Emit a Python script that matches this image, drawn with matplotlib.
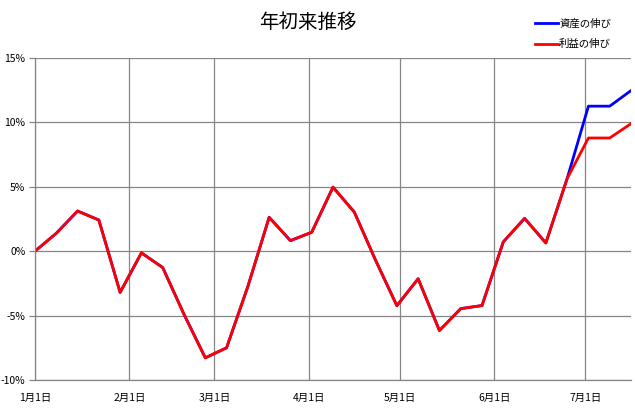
import matplotlib.pyplot as plt
import numpy as np
import pandas as pd

# ==========================================
# DATA
# ==========================================

dates = pd.date_range("2019-01-01", "2019-07-16", freq="7D")

# 資産の伸び (%)
asset_growth = [0.0, 1.39, 3.12, 2.42, -3.2, -0.13, -1.27, -4.9, -8.28, -7.5,
                -2.74, 2.63, 0.82, 1.47, 4.97, 3.04, -0.7, -4.23, -2.14, -6.16,
                -4.46, -4.22, 0.72, 2.55, 0.64, 5.64, 11.26, 11.26, 12.47]

# 利益の伸び (%)
profit_growth = [0.0, 1.39, 3.12, 2.42, -3.2, -0.13, -1.27, -4.9, -8.28, -7.5,
                 -2.74, 2.63, 0.82, 1.47, 4.97, 3.04, -0.7, -4.23, -2.14, -6.16,
                 -4.46, -4.22, 0.72, 2.55, 0.64, 5.64, 8.79, 8.79, 9.9]

month_ticks = pd.to_datetime(["2019-01-01", "2019-02-01", "2019-03-01", "2019-04-01",
                              "2019-05-01", "2019-06-01", "2019-07-01"])
month_labels = ["1月1日", "2月1日", "3月1日", "4月1日", "5月1日", "6月1日", "7月1日"]

y_ticks = [-10, -5, 0, 5, 10, 15]
y_labels = ["-10%", "-5%", "0%", "5%", "10%", "15%"]

# ==========================================
# PLOT
# ==========================================

plt.rcParams["font.family"] = ["Noto Sans CJK JP", "DejaVu Sans"]
GRID = "#868686"

fig = plt.figure(figsize=(6.35, 4.13), dpi=100)
ax = fig.add_axes([35 / 635, 1 - 380 / 413, (631 - 35) / 635, (380 - 58) / 413])

ax.plot(dates, asset_growth, color="#0000ff", lw=2.0, label="資産の伸び")
ax.plot(dates, profit_growth, color="#ff0000", lw=2.0, label="利益の伸び")

ax.set_xlim(dates[0], dates[-1])
ax.set_ylim(-10, 15)
ax.set_xticks(month_ticks)
ax.set_xticklabels(month_labels, fontsize=7.5)
ax.set_yticks(y_ticks)
ax.set_yticklabels(y_labels, fontsize=7.5)

ax.grid(True, color=GRID, lw=0.9)
ax.set_axisbelow(True)
for side in ["top", "right"]:
    ax.spines[side].set_visible(False)
for side in ["left", "bottom"]:
    ax.spines[side].set_color(GRID)
    ax.spines[side].set_linewidth(0.9)
ax.tick_params(axis="y", length=4, color=GRID, width=0.9, pad=3)
ax.tick_params(axis="x", length=0, pad=9)

fig.text(308 / 635, 1 - 22 / 413, "年初来推移", fontsize=14, ha="center", va="center")

ax.legend(loc="upper left", bbox_to_anchor=(530 / 635, 1 - 13 / 413),
          bbox_transform=fig.transFigure, frameon=False, fontsize=7.5,
          handlelength=2.2, handletextpad=0.1, labelspacing=1.05, borderpad=0)

fig.savefig("out.png", dpi=100)
